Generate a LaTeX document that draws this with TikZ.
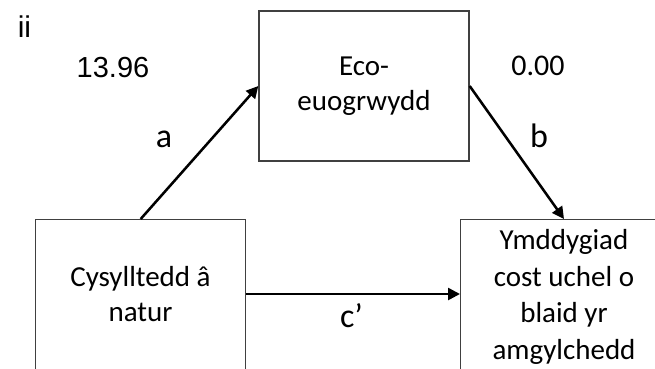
\documentclass[tikz,border=0pt]{standalone}
\usepackage{fontspec}
\setmainfont{Carlito}
\newfontfamily\arialfont{Liberation Sans}
\usetikzlibrary{arrows.meta}

\begin{document}
\begin{tikzpicture}[x=0.75pt,y=-0.75pt,
    box/.style={draw=black!75,line width=1pt,inner sep=0pt,align=center,
      minimum width=157.5pt,minimum height=112.5pt,
      font=\fontsize{21.75}{26.5}\selectfont},
    boxtext/.style={inner sep=0pt,align=center,font=\fontsize{21.75}{27.5}\selectfont},
    link/.style={-{Triangle[length=9pt,width=9pt]},line width=1.9pt},
    lab/.style={anchor=base,inner sep=0pt,font=\fontsize{25.5}{30}\selectfont},
    num/.style={anchor=base,inner sep=0pt,font=\arialfont\fontsize{21.75}{26}\selectfont}]
  \useasboundingbox (0,0) rectangle (655,368);
  \clip (0,0) rectangle (655,368);
  % the three variables (the lower two run off the page)
  \node[box] (med) at (364,86) {Eco-\\euogrwydd};
  \node[box,anchor=north west,minimum height=150pt] (cause) at (35,219) {};
  \node[box,anchor=north west,minimum width=200pt,minimum height=150pt] (out) at (460,219) {};
  \node[boxtext,font=\fontsize{21.75}{26.5}\selectfont] (causetxt) at (140.5,294) {Cysylltedd â\\natur};
  \node[boxtext] (outtxt) at (564,297) {Ymddygiad\\cost uchel o\\blaid yr\\amgylchedd};
  % paths
  \draw[link] (cause.north) -- (med.west);
  \draw[link] (med.east) -- (outtxt |- out.north);
  \draw[link] (causetxt -| cause.east) -- (causetxt -| out.west);
  \node[lab] (a) at (164,147) {a};
  \node[lab] (b) at (539,147) {b};
  \node[lab] (c) at (351.5,327) {c’};
  % panel tag and values
  \node[num,font=\arialfont\fontsize{22.5}{26}\selectfont] (tag) at (24.5,37) {ii};
  \node[num] (va) at (113,77) {13.96};
  \node[anchor=base,inner sep=0pt,font=\fontsize{22.5}{27}\selectfont] (vb) at (538,75) {0.00};
\end{tikzpicture}
\end{document}
